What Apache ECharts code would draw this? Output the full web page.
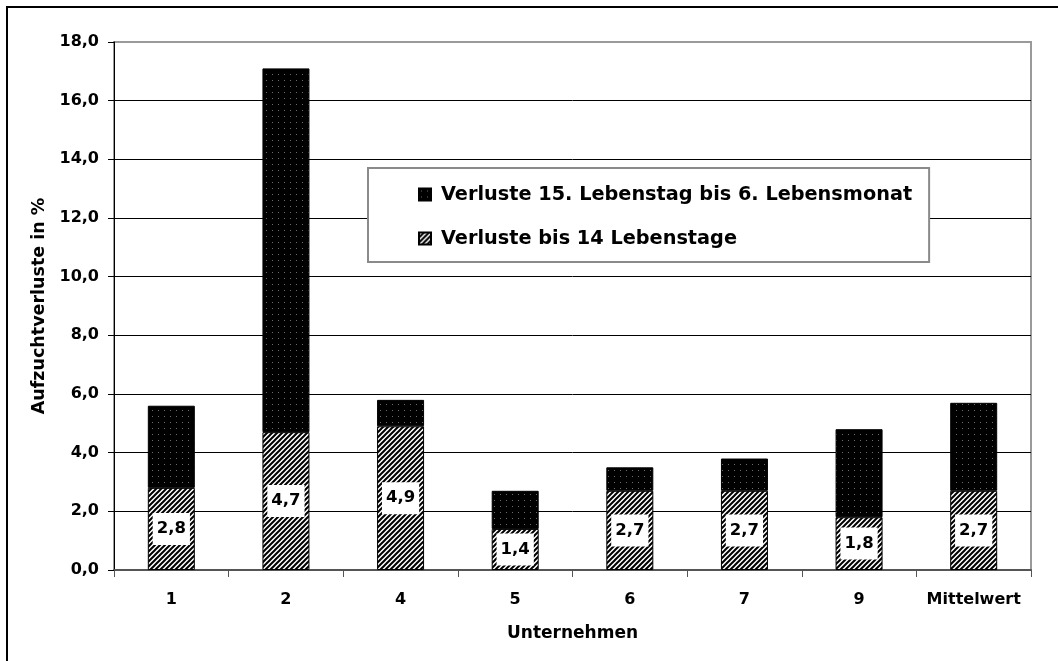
<!DOCTYPE html>
<html>
<head>
<meta charset="utf-8">
<style>
  html, body { margin: 0; padding: 0; background: #fff; }
  #chart { width: 1058px; height: 661px; }
</style>
<script src="https://cdn.jsdelivr.net/npm/echarts@6/dist/echarts.min.js"></script>
</head>
<body>
<div id="chart"></div>
<script>
// Aufzuchtverluste je Unternehmen (in %)
const categories = ['1', '2', '4', '5', '6', '7', '9', 'Mittelwert'];
const lossesUpTo14Days = [2.8, 4.7, 4.9, 1.4, 2.7, 2.7, 1.8, 2.7];
const losses15thDayTo6thMonth = [2.8, 12.4, 0.9, 1.3, 0.8, 1.1, 3.0, 3.0];
const seriesNames = ['Verluste bis 14 Lebenstage', 'Verluste 15. Lebenstag bis 6. Lebensmonat'];

const FONT = '"DejaVu Sans", "Liberation Sans", Arial, sans-serif';

function fmt(v) {
  return v.toFixed(1).replace('.', ',');
}

// Diagonal hatch fill
function hatchPattern() {
  const s = 5;
  const c = document.createElement('canvas');
  c.width = s; c.height = s;
  const g = c.getContext('2d');
  g.fillStyle = '#fff';
  g.fillRect(0, 0, s, s);
  g.strokeStyle = '#000';
  g.lineWidth = 2;
  g.beginPath();
  g.moveTo(-1, s + 1); g.lineTo(s + 1, -1);
  g.moveTo(-1, 1); g.lineTo(1, -1);
  g.moveTo(s - 1, s + 1); g.lineTo(s + 1, s - 1);
  g.stroke();
  return { image: c, repeat: 'repeat' };
}

// Black fill with a fine grey dot raster
function dotPattern() {
  const s = 6;
  const c = document.createElement('canvas');
  c.width = s; c.height = s;
  const g = c.getContext('2d');
  g.fillStyle = '#000';
  g.fillRect(0, 0, s, s);
  g.fillStyle = '#6e6e6e';
  g.fillRect(2, 2, 1, 1);
  return { image: c, repeat: 'repeat' };
}

const chart = echarts.init(document.getElementById('chart'), null, { renderer: 'canvas' });

chart.setOption({
  animation: false,
  backgroundColor: '#fff',
  textStyle: { fontFamily: FONT },
  graphic: [{
    type: 'rect',
    shape: { x: 7, y: 7, width: 1200, height: 800 },
    style: { fill: 'none', stroke: '#000', lineWidth: 2 },
    z: 100
  }],
  grid: {
    left: 114, right: 27, top: 42, bottom: 91,
    show: true, borderColor: '#9a9a9a', borderWidth: 2
  },
  legend: {
    data: [seriesNames[1], seriesNames[0]],
    orient: 'vertical',
    left: 368, top: 168,
    backgroundColor: '#fff',
    borderColor: '#8a8a8a', borderWidth: 2,
    padding: [17, 17, 14, 50],
    icon: 'rect',
    itemWidth: 12, itemHeight: 12,
    itemGap: 25,
    selectedMode: false,
    textStyle: {
      fontFamily: FONT, fontSize: 19.3, fontWeight: 'bold', color: '#000',
      padding: [0, 0, 0, 5]
    }
  },
  xAxis: {
    type: 'category',
    data: categories,
    name: 'Unternehmen',
    nameLocation: 'middle',
    nameGap: 55,
    nameTextStyle: { fontFamily: FONT, fontSize: 17, fontWeight: 'bold', color: '#000' },
    axisLine: { lineStyle: { color: '#555', width: 2 } },
    axisTick: { show: true, interval: 0, length: 7, lineStyle: { color: '#555', width: 1 } },
    axisLabel: { interval: 0, fontFamily: FONT, fontSize: 16, fontWeight: 'bold', color: '#000', margin: 22 }
  },
  yAxis: {
    type: 'value',
    min: 0, max: 18, interval: 2,
    name: 'Aufzuchtverluste in %',
    nameLocation: 'middle',
    nameGap: 62,
    nameTextStyle: { fontFamily: FONT, fontSize: 17.5, fontWeight: 'bold', color: '#000' },
    axisLine: { show: true, lineStyle: { color: '#000', width: 1 } },
    axisTick: { show: true, length: 6, lineStyle: { color: '#000' } },
    axisLabel: {
      fontFamily: FONT, fontSize: 16, fontWeight: 'bold', color: '#000', margin: 15,
      formatter: v => fmt(v)
    },
    splitLine: { show: true, showMaxLine: false, lineStyle: { color: '#000', width: 1 } }
  },
  series: [
    {
      name: seriesNames[0],
      type: 'bar',
      stack: 'total',
      barWidth: 47,
      data: lossesUpTo14Days,
      itemStyle: { color: hatchPattern(), borderColor: '#000', borderWidth: 1 },
      label: {
        show: true,
        position: 'inside',
        formatter: p => fmt(p.value),
        fontFamily: FONT, fontSize: 16.5, fontWeight: 'bold', color: '#000',
        backgroundColor: '#fff',
        padding: [8, 4, 7, 4]
      }
    },
    {
      name: seriesNames[1],
      type: 'bar',
      stack: 'total',
      barWidth: 47,
      data: losses15thDayTo6thMonth,
      itemStyle: { color: dotPattern(), borderColor: '#000', borderWidth: 1 }
    }
  ]
});
</script>
</body>
</html>
